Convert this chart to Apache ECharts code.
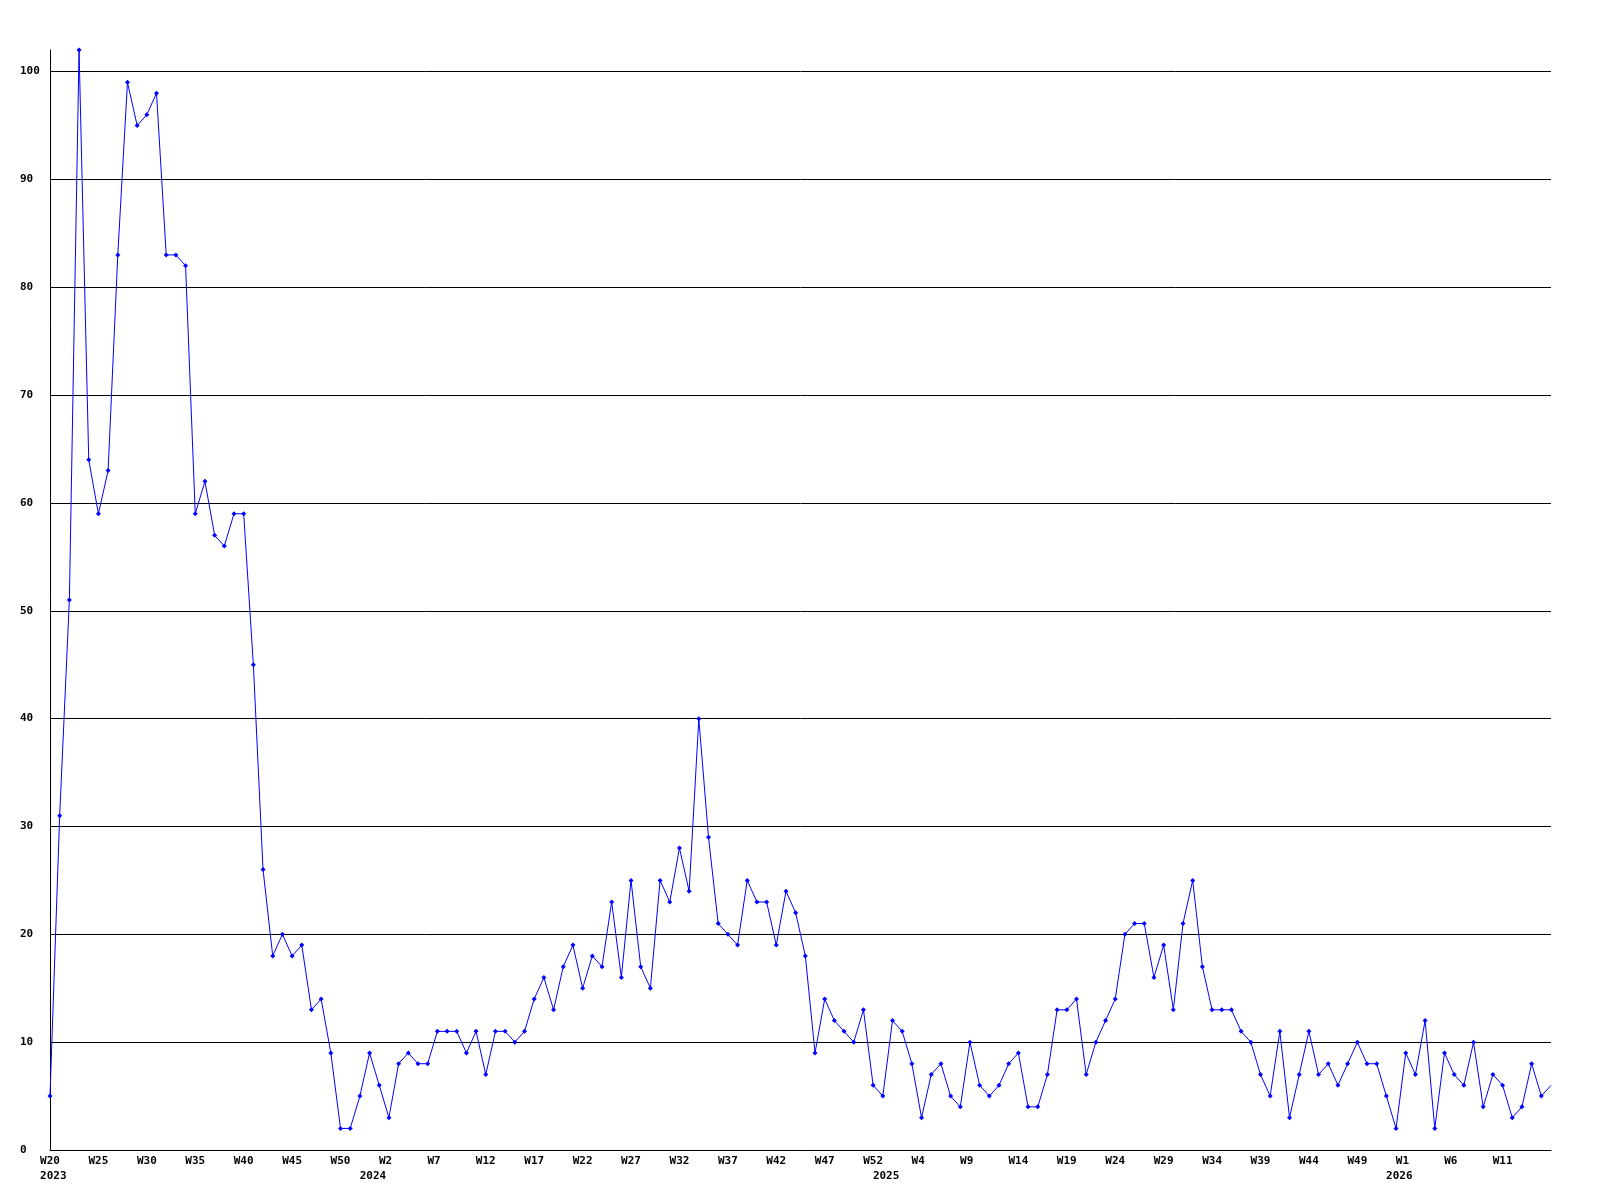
<!DOCTYPE html>
<html>
<head>
<meta charset="utf-8">
<script src="https://cdn.jsdelivr.net/npm/echarts@6/dist/echarts.min.js"></script>
<style>
  html, body { margin: 0; padding: 0; background: #fff; }
  #main { width: 1600px; height: 1200px; }
</style>
</head>
<body>
<div id="main"></div>
<script>
// weeks per year, as printed under the axis (W0 = part week at the start of a year)
const weeks2023 = 'W20 W21 W22 W23 W24 W25 W26 W27 W28 W29 W30 W31 W32 W33 W34 W35 W36 W37 W38 W39 W40 W41 W42 W43 W44 W45 W46 W47 W48 W49 W50 W51 W52'.split(' ');
const weeks2024 = 'W0 W1 W2 W3 W4 W5 W6 W7 W8 W9 W10 W11 W12 W13 W14 W15 W16 W17 W18 W19 W20 W21 W22 W23 W24 W25 W26 W27 W28 W29 W30 W31 W32 W33 W34 W35 W36 W37 W38 W39 W40 W41 W42 W43 W44 W45 W46 W47 W48 W49 W50 W51 W52'.split(' ');
const weeks2025 = 'W0 W1 W2 W3 W4 W5 W6 W7 W8 W9 W10 W11 W12 W13 W14 W15 W16 W17 W18 W19 W20 W21 W22 W23 W24 W25 W26 W27 W28 W29 W30 W31 W32 W33 W34 W35 W36 W37 W38 W39 W40 W41 W42 W43 W44 W45 W46 W47 W48 W49 W50 W51 W52'.split(' ');
const weeks2026 = 'W0 W1 W2 W3 W4 W5 W6 W7 W8 W9 W10 W11 W12 W13 W14 W15 W16'.split(' ');

// weekly counts
const values2023 = [5, 31, 51, 102, 64, 59, 63, 83, 99, 95, 96, 98, 83, 83, 82, 59, 62, 57, 56, 59,
  59, 45, 26, 18, 20, 18, 19, 13, 14, 9, 2, 2, 5];
const values2024 = [9, 6, 3, 8, 9, 8, 8, 11, 11, 11, 9, 11, 7, 11, 11, 10, 11, 14, 16, 13,
  17, 19, 15, 18, 17, 23, 16, 25, 17, 15, 25, 23, 28, 24, 40, 29, 21, 20, 19, 25,
  23, 23, 19, 24, 22, 18, 9, 14, 12, 11, 10, 13, 6];
const values2025 = [5, 12, 11, 8, 3, 7, 8, 5, 4, 10, 6, 5, 6, 8, 9, 4, 4, 7, 13, 13,
  14, 7, 10, 12, 14, 20, 21, 21, 16, 19, 13, 21, 25, 17, 13, 13, 13, 11, 10, 7,
  5, 11, 3, 7, 11, 7, 8, 6, 8, 10, 8, 8, 5];
const values2026 = [2, 9, 7, 12, 2, 9, 7, 6, 10, 4, 7, 6, 3, 4, 8, 5, 6];

const yTicks = [0, 10, 20, 30, 40, 50, 60, 70, 80, 90, 100];

const categories = []
  .concat(weeks2023.map(w => '2023|' + w))
  .concat(weeks2024.map(w => '2024|' + w))
  .concat(weeks2025.map(w => '2025|' + w))
  .concat(weeks2026.map(w => '2026|' + w));
const values = [].concat(values2023, values2024, values2025, values2026);
const last = categories.length - 1;

const font = {
  color: '#000',
  fontFamily: 'DejaVu Sans Mono',
  fontWeight: 'bold',
  fontSize: 11
};

const chart = echarts.init(document.getElementById('main'));
chart.setOption({
  animation: false,
  backgroundColor: '#fff',
  grid: { left: 50, right: 49, top: 50, bottom: 50 },
  xAxis: [{
    type: 'category',
    data: categories,
    boundaryGap: false,
    axisLine: { lineStyle: { color: '#000', width: 1 } },
    axisTick: { show: false },
    splitLine: { show: false },
    axisLabel: Object.assign({
      margin: 6,
      interval: function (i) { return i % 5 === 0 && i < last; },
      formatter: function (v) {
        const w = v.split('|')[1];
        return w.length < 3 ? w + ' ' : w;
      }
    }, font)
  }, {
    type: 'category',
    data: categories,
    boundaryGap: false,
    position: 'bottom',
    offset: 15,
    axisLine: { show: false },
    axisTick: { show: false },
    splitLine: { show: false },
    axisLabel: Object.assign({
      margin: 6,
      interval: function (i, v) { return i === 0 || v.split('|')[1] === 'W0'; },
      formatter: function (v) { return ' ' + v.split('|')[0]; }
    }, font)
  }],
  yAxis: {
    type: 'value',
    min: 0,
    max: 102,
    interval: 10,
    axisLine: { show: true, lineStyle: { color: '#000', width: 1 } },
    axisTick: { show: false },
    splitLine: { show: true, showMaxLine: false, lineStyle: { color: '#000', width: 1 } },
    axisLabel: Object.assign({
      align: 'left',
      margin: 30,
      formatter: function (v) { return yTicks.indexOf(v) >= 0 ? String(v) : ''; }
    }, font)
  },
  series: [{
    type: 'line',
    xAxisIndex: 0,
    data: values.map(function (v, i) {
      return i === last ? { value: v, symbol: 'none' } : v;
    }),
    symbol: 'diamond',
    symbolSize: 5,
    showAllSymbol: true,
    lineStyle: { color: '#0000ff', width: 1 },
    itemStyle: { color: '#0000ff' },
    emphasis: { disabled: true },
    clip: true
  }]
});
</script>
</body>
</html>
